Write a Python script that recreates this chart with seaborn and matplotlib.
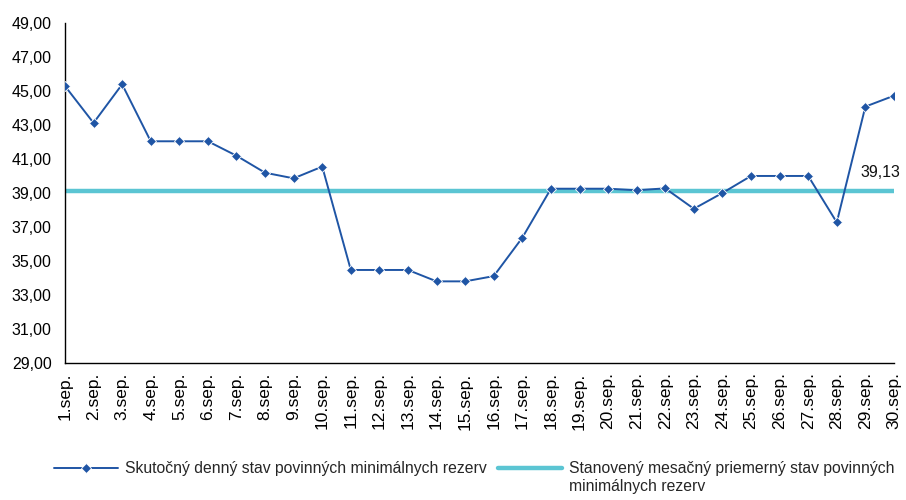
import numpy as np
import pandas as pd
import matplotlib
matplotlib.use("Agg")
import matplotlib.pyplot as plt
import matplotlib.transforms as mtransforms
import seaborn as sns

# data
days = [f"{d}.sep." for d in range(1, 31)]
actual = [45.31, 43.14, 45.41, 42.06, 42.06, 42.06, 41.21, 40.21, 39.88, 40.57,
          34.49, 34.49, 34.49, 33.82, 33.82, 34.13, 36.39, 39.27, 39.27, 39.27,
          39.18, 39.29, 38.09, 39.02, 40.02, 40.02, 40.02, 37.29, 44.10, 44.74]
target = 39.13
y_ticks = [29, 31, 33, 35, 37, 39, 41, 43, 45, 47, 49]

label_actual = "Skutočný denný stav povinných minimálnych rezerv"
label_target = "Stanovený mesačný priemerný stav povinných"
label_target_2 = "minimálnych rezerv"

sns.set_style("white")
plt.rcParams['font.family'] = ['Liberation Sans', 'DejaVu Sans']

df = pd.DataFrame({
    "pos": np.arange(len(days)),
    "day": days,
    "actual": actual,
    "target": [target] * len(days),
})

fig = plt.figure(figsize=(9.06, 5.0), dpi=100)
ax = fig.add_axes([0.0717, 0.2734, 0.915, 0.68])

sns.lineplot(data=df, x="pos", y="target", ax=ax, color="#5BC5D3", linewidth=3.2,
             label=label_target, zorder=2)
sns.lineplot(data=df, x="pos", y="actual", ax=ax, color="#1F55A5", linewidth=1.4,
             marker="D", markersize=5.5, markeredgecolor="white", markeredgewidth=0.6,
             label=label_actual, zorder=3)

# value label of the target line, right-aligned near the figure edge
trans = mtransforms.blended_transform_factory(fig.transFigure, ax.transData)
ax.text(0.994, target + 1.12, "39,13", ha="right", va="center", fontsize=11.5,
        color="#111111", transform=trans, clip_on=False)

ax.set_xlim(0, len(days) - 1)
ax.set_ylim(29, 49)
ax.set_yticks(y_ticks)
ax.set_yticklabels([f"{v:.2f}".replace(".", ",") for v in y_ticks], fontsize=11.5)
ax.set_xticks(df["pos"])
ax.set_xticklabels(days, rotation=90, fontsize=12.5, va="top")
ax.set_xlabel("")
ax.set_ylabel("")

for side in ["top", "right"]:
    ax.spines[side].set_visible(False)
for side in ["left", "bottom"]:
    ax.spines[side].set_color("black")
    ax.spines[side].set_linewidth(1.0)
ax.tick_params(axis="both", direction="inout", length=7, width=1.0, color="black",
               labelcolor="black")
ax.tick_params(axis="y", pad=6)
ax.tick_params(axis="x", pad=3)

handles, labels = ax.get_legend_handles_labels()
ax.legend_.remove()
order = [labels.index(label_actual), labels.index(label_target)]
leg = fig.legend([handles[i] for i in order], [labels[i] for i in order],
                 loc="center left", bbox_to_anchor=(0.0596, 0.062), ncol=2, frameon=False,
                 fontsize=11.3, handlelength=4.1, handletextpad=0.4, columnspacing=0.75,
                 borderpad=0, borderaxespad=0)

# second line of the wrapped legend entry, placed under the first one
fig.canvas.draw()
renderer = fig.canvas.get_renderer()
bb = leg.get_texts()[1].get_window_extent(renderer)
x0, y0 = fig.transFigure.inverted().transform((bb.x0, bb.y0))
fig.text(x0, y0 - 0.004, label_target_2, ha="left", va="top", fontsize=11.3)

fig.savefig("out.png", dpi=100)
